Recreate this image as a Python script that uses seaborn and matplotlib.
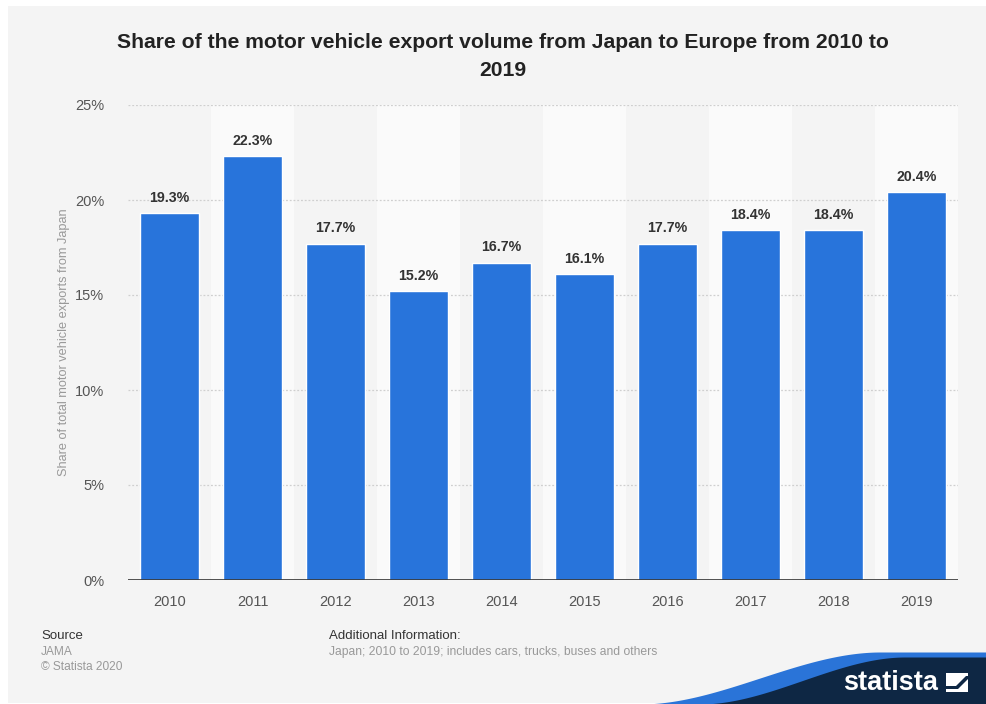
import numpy as np
import pandas as pd
import matplotlib
matplotlib.use("Agg")
import matplotlib.pyplot as plt
from matplotlib.patches import Rectangle, Polygon
import seaborn as sns

# Data
years = ["2010", "2011", "2012", "2013", "2014", "2015", "2016", "2017", "2018", "2019"]
shares = [19.3, 22.3, 17.7, 15.2, 16.7, 16.1, 17.7, 18.4, 18.4, 20.4]
y_ticks = [0, 5, 10, 15, 20, 25]

title = "Share of the motor vehicle export volume from Japan to Europe from 2010 to\n2019"
y_label = "Share of total motor vehicle exports from Japan"

BG = "#f4f4f4"
BAND = "#fafafa"
BAR = "#2874db"
NAVY = "#0e2744"

sns.set_theme(style="white")
plt.rcParams["font.family"] = ["Liberation Sans", "DejaVu Sans"]

W, H = 986, 704
fig = plt.figure(figsize=(W / 100, H / 100), dpi=100, facecolor="white")

# light grey card behind everything
fig.patches.append(Rectangle((8 / W, 1 / H), (W - 8) / W, (H - 7) / H,
                             transform=fig.transFigure, facecolor=BG,
                             edgecolor="none", zorder=-10))

ax = fig.add_axes([128 / W, 1 - 580 / H, 830 / W, 475 / H])
ax.set_facecolor(BG)

df = pd.DataFrame({"year": years, "share": shares})
sns.barplot(data=df, x="year", y="share", color=BAR, width=0.7,
            saturation=1, ax=ax, zorder=3)

# alternating column bands
for i in range(len(years)):
    if i % 2 == 1:
        ax.axvspan(i - 0.5, i + 0.5, color=BAND, zorder=0, lw=0)

ax.set_xlim(-0.5, len(years) - 0.5)
ax.set_ylim(0, 25)
ax.set_yticks(y_ticks)
ax.set_yticklabels([f"{t}%" for t in y_ticks])
for t in y_ticks[1:]:
    ax.axhline(t, color="#cfcfcf", lw=0.9, ls=(0, (1.5, 1.5)), zorder=1)
ax.axhline(0, color="#333333", lw=1.2, zorder=4)

for s in ax.spines.values():
    s.set_visible(False)
ax.tick_params(axis="both", length=0, labelsize=10.5, labelcolor="#555555")
ax.tick_params(axis="x", pad=11)
ax.tick_params(axis="y", pad=17)
ax.set_xlabel("")
ax.set_ylabel(y_label, fontsize=9.2, color="#999999")
ax.yaxis.set_label_coords((70 - 128) / 830, 0.5)

for i, v in enumerate(shares):
    ax.annotate(f"{v}%", (i, v), xytext=(0, 6), textcoords="offset points",
                ha="center", va="bottom", fontsize=10.2, fontweight="bold",
                color="#333333", zorder=5)

fig.text(503 / W, 1 - 56 / H, title, ha="center", va="center",
         fontsize=15.2, fontweight="bold", color="#222222", linespacing=1.6)

# footer notes
fig.text(41 / W, 1 - 636 / H, "Source", fontsize=9.5, color="#333333", va="center")
fig.text(41 / W, 1 - 652 / H, "JAMA", fontsize=8.6, color="#999999", va="center")
fig.text(41 / W, 1 - 667 / H, "© Statista 2020", fontsize=8.6, color="#999999", va="center")
fig.text(329 / W, 1 - 636 / H, "Additional Information:", fontsize=9.5,
         color="#333333", va="center")
fig.text(329 / W, 1 - 652 / H,
         "Japan; 2010 to 2019; includes cars, trucks, buses and others",
         fontsize=8.75, color="#999999", va="center")

# brand wave in the bottom-right corner
lax = fig.add_axes([0, 0, 1, 1], zorder=10)
lax.set_xlim(0, W)
lax.set_ylim(H, 0)
lax.axis("off")
lax.patch.set_alpha(0)


def wave(x, x0, x1, ytop):
    t = np.clip((x - x0) / (x1 - x0), 0, 1)
    s = 3 * t ** 2 - 2 * t ** 3
    return H - (H - ytop) * s


xs = np.linspace(600, W, 300)
lax.fill_between(xs, wave(xs, 640, 880, 652), H, color="#2a74d8", lw=0)
lax.fill_between(xs, wave(xs, 700, 905, 657), H, color=NAVY, lw=0)
lax.text(891, 683, "statista", color="white", fontsize=19.5, fontweight="bold",
         ha="center", va="center", family="Liberation Sans")
lax.add_patch(Rectangle((946, 673), 22, 19, facecolor="white", lw=0))
lax.add_patch(Polygon([(946, 686), (956, 686), (966, 676), (968, 676),
                       (968, 679), (958, 689), (946, 689)],
                      closed=True, facecolor=NAVY, lw=0))

fig.savefig("out.png", dpi=100, facecolor="white")
